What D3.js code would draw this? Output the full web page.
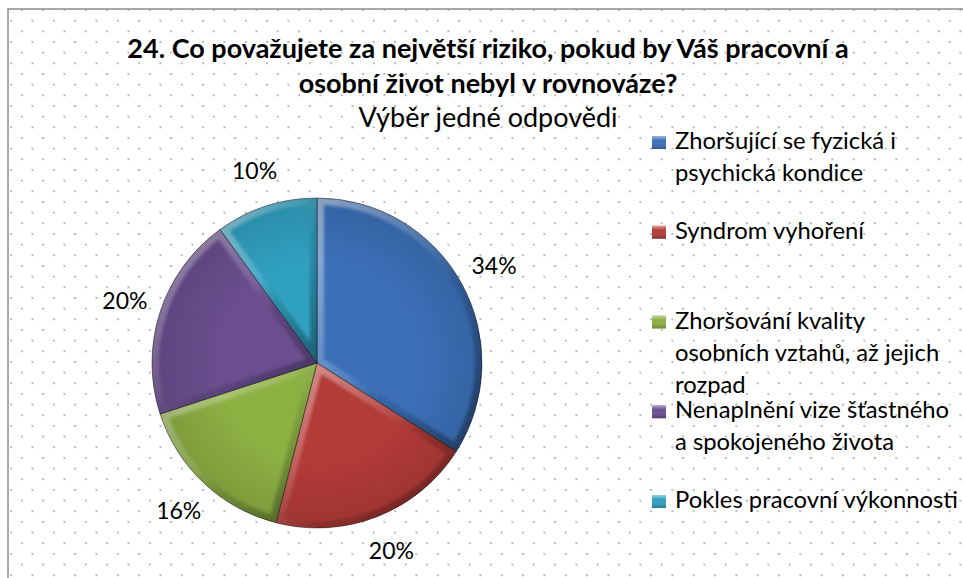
<!DOCTYPE html>
<html>
<head>
<meta charset="utf-8">
<script src="https://cdnjs.cloudflare.com/ajax/libs/d3/7.8.5/d3.min.js"></script>
<style type='text/css'>
body {
  margin: 0;
  background: #fff;
}
svg {
  display: block;
}
text {
  font-family: Lato, "Open Sans", sans-serif;
  fill: #000;
}
text.title {
  font-weight: bold;
}
</style>
</head>
<body>
<div id="chart"></div>
<script type='text/javascript'>
// chart data
var titleLines = ["24. Co považujete za největší riziko, pokud by Váš pracovní a",
                  "osobní život nebyl v rovnováze?"];
var subtitle = "Výběr jedné odpovědi";
var categories = ["Zhoršující se fyzická i\npsychická kondice",
                  "Syndrom vyhoření",
                  "Zhoršování kvality\nosobních vztahů, až jejich\nrozpad",
                  "Nenaplnění vize šťastného\na spokojeného života",
                  "Pokles pracovní výkonnosti"];
var values = [34, 20, 16, 20, 10];
var colors = ["#3b70b8", "#b33b38", "#8db043", "#6a4e8f", "#30a0c0"];

var width = 963,
    height = 578;

var svg = d3.select("#chart").append("svg")
    .attr("width", width)
    .attr("height", height);
var defs = svg.append("defs");

// dotted background like the office chart fill
var pat = defs.append("pattern")
    .attr("id", "dots")
    .attr("patternUnits", "userSpaceOnUse")
    .attr("x", -0.5).attr("y", 9)
    .attr("width", 21.33).attr("height", 21.33);
pat.append("rect").attr("x", 0).attr("y", 0).attr("width", 2).attr("height", 2).attr("fill", "#b8b8b8");
pat.append("rect").attr("x", 10.67).attr("y", 10.67).attr("width", 2).attr("height", 2).attr("fill", "#b8b8b8");

svg.append("rect")
    .attr("x", 8).attr("y", 9)
    .attr("width", width).attr("height", height)
    .attr("fill", "url(#dots)")
    .attr("stroke", "#8a8a8a")
    .attr("stroke-width", 1.5);

// bevel gradients
var bevel = defs.append("linearGradient")
    .attr("id", "bevel")
    .attr("x1", 0).attr("y1", 0).attr("x2", 1).attr("y2", 1);
bevel.append("stop").attr("offset", "0%").attr("stop-color", "#fff").attr("stop-opacity", 0.5);
bevel.append("stop").attr("offset", "45%").attr("stop-color", "#fff").attr("stop-opacity", 0.12);
bevel.append("stop").attr("offset", "60%").attr("stop-color", "#000").attr("stop-opacity", 0.1);
bevel.append("stop").attr("offset", "100%").attr("stop-color", "#000").attr("stop-opacity", 0.4);

defs.append("filter").attr("id", "soft")
  .append("feGaussianBlur").attr("stdDeviation", 1.6);

var shade = defs.append("radialGradient").attr("id", "shade");
shade.append("stop").attr("offset", "60%").attr("stop-color", "#000").attr("stop-opacity", 0);
shade.append("stop").attr("offset", "100%").attr("stop-color", "#000").attr("stop-opacity", 0.12);

// titles
var titleG = svg.append("g");
titleG.selectAll("text.title")
  .data(titleLines)
  .enter().append("text")
    .attr("class", "title")
    .attr("x", 488)
    .attr("y", function(d, i) { return 58 + i * 35; })
    .attr("text-anchor", "middle")
    .style("font-size", "27px")
    .text(function(d) { return d; });
titleG.append("text")
    .attr("x", 488)
    .attr("y", 127)
    .attr("text-anchor", "middle")
    .style("font-size", "27px")
    .text(subtitle);

// pie
var cx = 317, cy = 363, R = 165;
var pie = d3.pie().sort(null).value(function(d) { return d; });
var arcs = pie(values);
var arc = d3.arc().innerRadius(0).outerRadius(R);
var labelArc = d3.arc().innerRadius(R + 37).outerRadius(R + 37);

var pieG = svg.append("g").attr("transform", "translate(" + cx + "," + cy + ")");

arcs.forEach(function(a, i) {
  defs.append("clipPath").attr("id", "clip" + i)
    .append("path").attr("d", arc(a));
});

var slices = pieG.selectAll("g.slice")
  .data(arcs)
  .enter().append("g")
    .attr("class", "slice");
slices.append("path")
    .attr("d", arc)
    .attr("fill", function(d, i) { return colors[i]; });
slices.append("path")
    .attr("d", arc)
    .attr("clip-path", function(d, i) { return "url(#clip" + i + ")"; })
    .attr("fill", "none")
    .attr("stroke", "url(#bevel)")
    .attr("stroke-width", 14)
    .attr("filter", "url(#soft)");
slices.append("path")
    .attr("d", arc)
    .attr("fill", "none")
    .attr("stroke", "rgba(0,0,0,0.45)")
    .attr("stroke-width", 1);
pieG.append("circle")
    .attr("r", R)
    .attr("fill", "url(#shade)");

pieG.selectAll("text.lbl")
  .data(arcs)
  .enter().append("text")
    .attr("class", "lbl")
    .attr("transform", function(d) { return "translate(" + labelArc.centroid(d) + ")"; })
    .attr("text-anchor", "middle")
    .attr("dy", "0.36em")
    .style("font-size", "23px")
    .text(function(d) { return d.value + "%"; });

// legend
var legY = d3.scalePoint().domain(d3.range(categories.length)).range([149, 508]);
var legend = svg.append("g");
var items = legend.selectAll("g.item")
  .data(categories)
  .enter().append("g")
    .attr("class", "item")
    .attr("transform", function(d, i) { return "translate(652," + legY(i) + ")"; });

var sq = defs.append("linearGradient").attr("id", "sqgrad")
    .attr("x1", 0).attr("y1", 0).attr("x2", 0).attr("y2", 1);
sq.append("stop").attr("offset", "0%").attr("stop-color", "#fff").attr("stop-opacity", 0.5);
sq.append("stop").attr("offset", "35%").attr("stop-color", "#fff").attr("stop-opacity", 0);
sq.append("stop").attr("offset", "100%").attr("stop-color", "#000").attr("stop-opacity", 0.25);

items.append("rect")
    .attr("x", 0).attr("y", -13)
    .attr("width", 14).attr("height", 13)
    .attr("fill", function(d, i) { return colors[i]; });
items.append("rect")
    .attr("x", 0).attr("y", -13)
    .attr("width", 14).attr("height", 13)
    .attr("fill", "url(#sqgrad)");

items.append("text")
    .attr("x", 23)
    .style("font-size", "23.8px")
    .each(function(d) {
      var t = d3.select(this);
      d.split("\n").forEach(function(line, j) {
        t.append("tspan").attr("x", 23).attr("y", j * 32).text(line);
      });
    });
</script>
</body>
</html>
